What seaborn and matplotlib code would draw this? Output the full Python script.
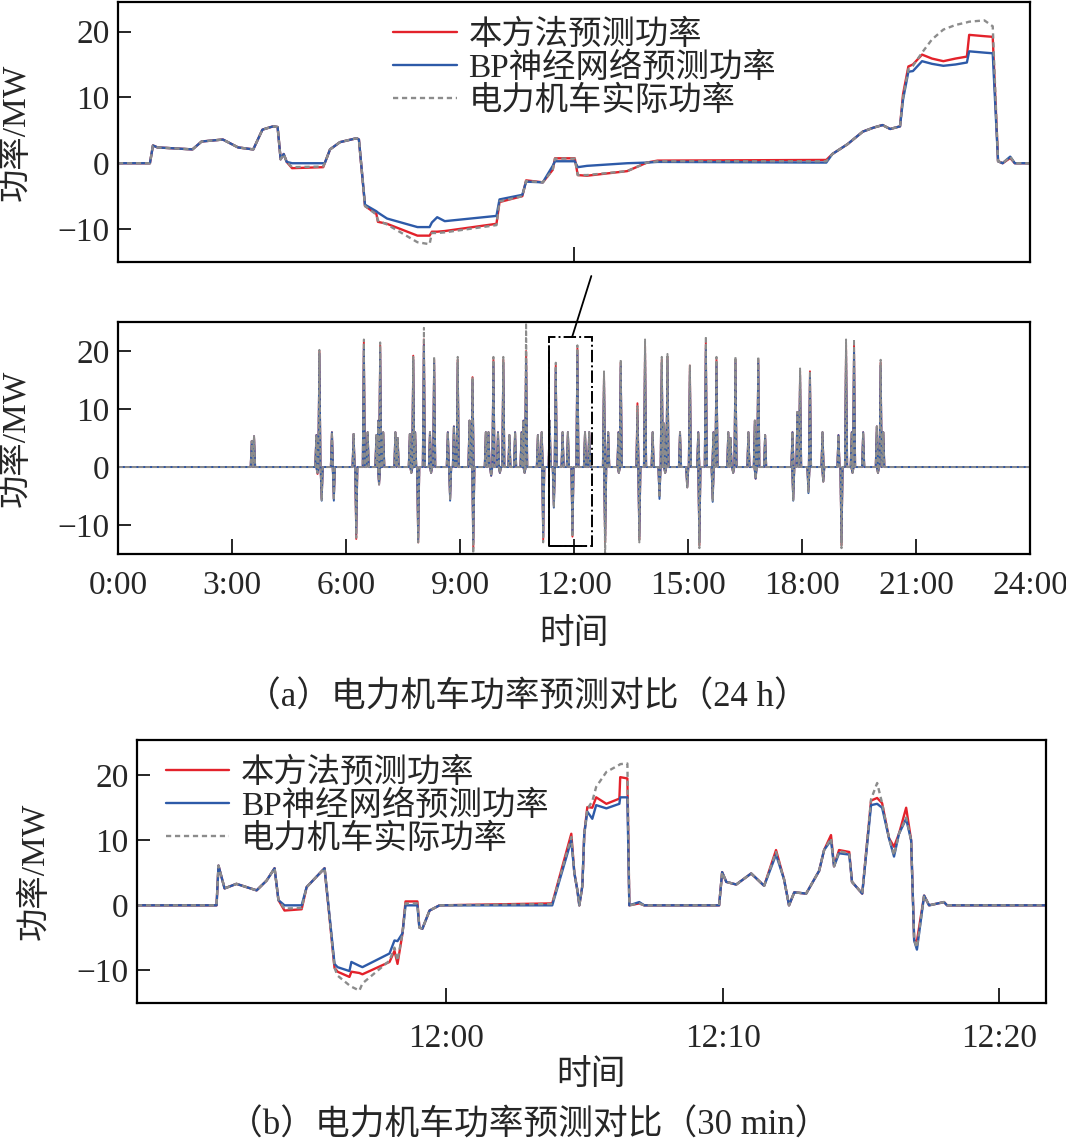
import matplotlib
matplotlib.use('Agg')
import matplotlib.pyplot as plt
import seaborn as sns
from matplotlib.patches import Rectangle, ConnectionPatch

# ---------------- data ----------------
# top panel: zoomed window, minutes after 11:30
top_minutes = [0, 2.1, 2.3, 2.6, 4.9, 5.5, 6.9, 7.9, 8.9, 9.5,
               10.2, 10.5, 10.7, 10.9, 11.1, 11.45, 13.5, 13.6, 13.95, 14.6,
               15.7, 15.85, 16.25, 17.0, 17.1, 17.7, 19.7, 20.5, 20.65, 21.0,
               21.5, 24.9, 25.1, 26.6, 26.85, 27.95, 28.6, 28.75, 30.05, 30.25,
               30.85, 33.5, 34.8, 35.5, 46.6, 47.0, 48.0, 49.0, 49.7, 50.3,
               50.8, 51.45, 51.65, 52.0, 52.3, 52.9, 53.55, 54.3, 55.1, 55.85,
               56.0, 57.0, 57.55, 57.9, 58.2, 58.7, 59.0, 60]
top_real = [0, 0, 2.7, 2.4, 2.1, 3.3, 3.6, 2.4, 2.1, 5.1,
            5.6, 5.5, 0.6, 1.4, 0.2, -0.6, -0.5, 0, 2.1, 3.2,
            3.8, 3.6, -6.5, -7.8, -8.7, -9.3, -12.0, -12.3, -10.6, -10.6,
            -10.5, -9.4, -5.8, -5.0, -2.7, -2.9, -1.0, 0.7, 0.7, -1.8,
            -1.8, -1.2, 0.1, 0.3, 0.3, 1.4, 2.9, 4.8, 5.4, 5.8,
            5.2, 5.6, 10.0, 14.3, 14.8, 16.8, 18.8, 20.3, 21.0, 21.4,
            21.5, 21.7, 20.8, 0.3, 0, 1.0, 0, 0]
top_ours = [0, 0, 2.7, 2.4, 2.1, 3.3, 3.6, 2.4, 2.1, 5.1,
            5.6, 5.5, 0.6, 1.4, 0.2, -0.75, -0.6, 0, 2.1, 3.2,
            3.8, 3.6, -6.5, -7.7, -8.9, -9.2, -11.0, -11.0, -10.4, -10.4,
            -10.3, -9.2, -5.9, -5.0, -2.6, -2.9, -1.0, 0.75, 0.75, -1.8,
            -1.9, -1.2, 0.1, 0.4, 0.5, 1.4, 2.9, 4.8, 5.4, 5.8,
            5.2, 5.6, 10.5, 14.7, 15.0, 16.5, 15.9, 15.5, 15.9, 16.2,
            19.5, 19.3, 19.2, 0.3, 0, 0.8, 0, 0]
top_bp = [0, 0, 2.7, 2.4, 2.1, 3.3, 3.6, 2.4, 2.1, 5.1,
          5.6, 5.5, 0.6, 1.4, 0.2, 0, 0, 0, 2.1, 3.2,
          3.8, 3.6, -6.3, -7.3, -7.5, -8.4, -9.7, -9.7, -9.0, -8.2,
          -8.8, -8.0, -5.5, -4.8, -2.8, -2.9, -0.4, 0.3, 0.3, -0.6,
          -0.4, 0, 0.1, 0.2, 0.1, 1.4, 2.9, 4.8, 5.4, 5.8,
          5.2, 5.6, 9.7, 13.9, 14.0, 15.5, 15.1, 14.8, 15.0, 15.3,
          17.0, 16.8, 16.7, 0.3, 0, 1.0, 0, 0]

# middle panel: 24 h, spike events (hour, peak MW)
spike_hours = [3.52, 3.58, 5.22, 5.25, 5.30, 5.36, 5.63, 5.68, 6.20, 6.27,
               6.47, 6.57, 6.80, 6.85, 6.87, 6.90, 6.98, 7.30, 7.36, 7.68,
               7.72, 7.77, 7.82, 7.90, 8.05, 8.21, 8.24, 8.32, 8.68, 8.74,
               8.84, 8.94, 9.25, 9.33, 9.35, 9.68, 9.75, 9.82, 9.88, 10.00,
               10.05, 10.14, 10.30, 10.45, 10.62, 10.67, 10.70, 10.74, 11.05, 11.15,
               11.19, 11.36, 11.47, 11.52, 11.70, 11.84, 11.96, 12.09, 12.29, 12.40,
               12.79, 12.82, 12.90, 13.17, 13.18, 13.23, 13.67, 13.72, 13.87, 14.07,
               14.25, 14.31, 14.37, 14.40, 14.46, 14.79, 14.98, 15.05, 15.27, 15.30,
               15.47, 15.65, 15.67, 15.75, 16.06, 16.12, 16.19, 16.25, 16.59, 16.76,
               16.78, 16.85, 17.03, 17.75, 17.77, 17.88, 17.95, 18.17, 18.21, 18.54,
               18.56, 18.96, 19.04, 19.16, 19.31, 19.33, 19.37, 19.61, 19.97, 20.00,
               20.07, 20.14]
spike_real = [4.5, 5.3, 5.5, -1.0, 20.2, -5.7, 6.0, -5.7, 5.7, -12.2,
              22.0, 6.0, 5.5, 8.0, -3.0, 21.5, 6.0, 6.0, 5.0, 5.7,
              -1.0, 19.0, 6.0, -13.0, 24.0, 6.0, -1.0, 19.0, 6.0, -5.7,
              7.0, 19.0, 8.0, 15.5, -16.0, 6.0, 6.0, -1.5, 19.0, 6.0,
              -1.0, 19.0, 5.5, 6.0, 6.0, 8.0, -1.0, 26.0, 5.5, 6.0,
              -13.0, 8.0, -7.0, 18.0, 6.0, 6.0, -12.0, 21.0, 6.0, 6.0,
              16.5, -16.0, 6.0, 6.0, -1.0, 18.5, 10.5, -13.0, 22.0, 6.0,
              -5.2, 19.0, 7.5, -1.0, 19.5, 6.0, -3.5, 17.5, 6.0, -14.0,
              22.5, -5.8, 6.0, 19.0, 6.0, 5.0, -1.0, 19.0, 6.0, 8.0,
              -2.0, 19.0, 5.5, 6.0, -5.7, 9.5, 17.0, -4.3, 16.5, 6.0,
              -2.5, 5.5, -14.0, 22.0, 6.0, -1.0, 22.0, 6.0, 7.0, -1.0,
              18.5, 6.0]
spike_ours = [4.5, 5.3, 5.5, -1.2, 20.0, -5.5, 6.0, -5.5, 5.7, -12.4,
              21.5, 6.0, 5.5, 8.0, -3.0, 21.0, 6.0, 6.0, 5.0, 5.7,
              -1.0, 19.2, 6.0, -13.0, 22.0, 6.0, -1.0, 18.5, 6.0, -5.5,
              7.0, 18.5, 8.0, 15.5, -14.0, 6.0, 6.0, -1.5, 18.5, 6.0,
              -1.0, 18.5, 5.5, 6.0, 6.0, 8.0, -1.0, 20.0, 5.5, 6.0,
              -12.5, 8.0, -6.5, 17.5, 6.0, 6.0, -12.0, 20.5, 6.0, 6.0,
              16.0, -13.0, 6.0, 6.0, -1.0, 18.0, 11.0, -12.5, 21.0, 6.0,
              -5.0, 18.5, 7.5, -1.0, 19.0, 6.0, -3.5, 17.5, 6.0, -13.5,
              21.5, -5.5, 6.0, 18.5, 6.0, 5.0, -1.0, 18.5, 6.0, 8.0,
              -2.0, 18.5, 5.5, 6.0, -5.5, 9.5, 16.5, -4.0, 16.5, 6.0,
              -2.5, 5.5, -13.5, 21.0, 6.0, -1.0, 21.0, 6.0, 7.0, -1.0,
              18.0, 6.0]
spike_bp = [4.5, 5.3, 5.5, -1.0, 19.5, -5.8, 6.0, -5.8, 5.7, -11.5,
            20.5, 6.0, 5.5, 8.0, -3.0, 20.0, 6.0, 6.0, 5.0, 5.7,
            -1.0, 18.5, 6.0, -12.5, 21.0, 6.0, -1.0, 18.0, 6.0, -5.8,
            7.0, 18.0, 8.0, 15.0, -13.0, 6.0, 6.0, -1.5, 18.0, 6.0,
            -1.0, 18.0, 5.5, 6.0, 6.0, 8.0, -1.0, 18.0, 5.5, 6.0,
            -12.0, 8.0, -7.0, 17.0, 6.0, 6.0, -11.5, 19.5, 6.0, 6.0,
            15.5, -12.5, 6.0, 6.0, -1.0, 17.5, 9.0, -12.0, 20.0, 6.0,
            -5.5, 18.0, 7.5, -1.0, 18.5, 6.0, -3.5, 16.5, 6.0, -13.0,
            20.5, -6.0, 6.0, 18.0, 6.0, 5.0, -1.0, 18.0, 6.0, 8.0,
            -2.0, 18.0, 5.5, 6.0, -5.8, 9.5, 16.0, -4.5, 15.5, 6.0,
            -2.5, 5.5, -13.0, 20.0, 6.0, -1.0, 20.0, 6.0, 7.0, -1.0,
            17.5, 6.0]
day_ticks = [0, 3, 6, 9, 12, 15, 18, 21, 24]
day_tick_labels = ['0:00', '3:00', '6:00', '9:00', '12:00', '15:00', '18:00', '21:00', '24:00']

# bottom panel: 30 min window, minutes relative to 12:00
win_minutes = [-11.2, -8.32, -8.25, -8.03, -7.6, -6.87, -6.51, -6.22, -6.08, -5.86,
               -5.24, -5.06, -4.77, -4.41, -4.05, -3.94, -3.51, -3.44, -3.15, -3.04,
               -2.06, -1.88, -1.77, -1.59, -1.48, -1.05, -0.98, -0.87, -0.61, -0.25,
               3.83, 4.52, 4.63, 4.74, 4.81, 4.92, 4.99, 5.1, 5.28, 5.42,
               5.79, 6.26, 6.29, 6.55, 6.62, 6.98, 7.16, 9.87, 9.98, 10.13,
               10.49, 11.03, 11.5, 11.93, 12.22, 12.4, 12.59, 13.02, 13.49, 13.67,
               13.92, 14.03, 14.21, 14.58, 14.68, 15.05, 15.37, 15.59, 15.77, 16.02,
               16.2, 16.38, 16.64, 16.82, 16.93, 17.03, 17.29, 17.47, 18.01, 18.12,
               21.7]
win_real = [0, 0, 6.1, 2.6, 3.3, 2.3, 3.8, 5.7, 0.8, -0.5,
            -0.4, 2.8, 4.1, 5.7, -9.6, -10.8, -12.3, -12.5, -13.1, -12.0,
            -8.5, -6.5, -8.5, -4.3, 0.3, 0.3, -3.4, -3.6, -0.8, 0,
            0.2, 10.5, 5.0, 2.3, 0, 3.0, 11.0, 14.8, 16.0, 18.2,
            20.5, 21.6, 21.7, 21.8, 0, 0.3, 0, 0, 5.1, 3.6,
            3.2, 4.9, 3.0, 8.2, 4.0, 0, 2.0, 1.8, 5.3, 8.5,
            10.3, 6.0, 8.3, 8.0, 3.6, 1.8, 16.3, 18.8, 15.7, 10.3,
            7.7, 11.0, 13.5, 10.0, -5.4, -6.5, 1.5, 0, 0.5, 0,
            0]
win_ours = [0, 0, 6.1, 2.6, 3.3, 2.3, 3.8, 5.7, 0.8, -0.8,
            -0.6, 2.8, 4.1, 5.7, -9.6, -10.2, -11.0, -10.2, -10.4, -10.6,
            -8.7, -7.0, -9.0, -4.3, 0.6, 0.6, -3.4, -3.6, -0.8, 0,
            0.3, 11.0, 5.0, 2.3, 0, 3.0, 11.0, 15.1, 15.0, 16.6,
            15.6, 16.4, 19.7, 19.5, 0, 0.3, 0, 0, 5.1, 3.6,
            3.2, 4.9, 3.0, 8.5, 4.0, 0, 2.0, 1.8, 5.3, 8.5,
            10.8, 6.0, 8.5, 8.2, 3.6, 1.8, 16.1, 16.5, 15.7, 10.3,
            9.0, 11.0, 15.0, 10.0, -5.4, -5.5, 1.5, 0, 0.5, 0,
            0]
win_bp = [0, 0, 6.1, 2.6, 3.3, 2.3, 3.8, 5.7, 0.8, 0,
          0, 2.8, 4.1, 5.7, -9.0, -9.5, -10.1, -8.7, -9.3, -9.5,
          -7.4, -5.4, -5.5, -4.3, 0, 0, -3.4, -3.6, -0.8, 0,
          0, 10.0, 5.0, 2.3, 0, 3.0, 11.0, 14.4, 13.3, 15.4,
          14.9, 15.6, 16.6, 16.6, 0, 0.5, 0, 0, 5.1, 3.6,
          3.2, 4.9, 3.0, 7.8, 4.0, 0, 2.0, 1.8, 5.3, 8.5,
          10.0, 6.0, 8.0, 7.8, 3.6, 1.8, 15.4, 15.6, 15.0, 10.3,
          7.5, 11.0, 13.3, 10.0, -5.4, -6.8, 1.5, 0, 0.5, 0,
          0]
win_ticks = [0, 10, 20]
win_tick_labels = ['12:00', '12:10', '12:20']

# zoom box drawn on the 24 h panel
box_hours = (11.34, 12.47)
box_values = (-13.6, 22.4)

series_labels = ['本方法预测功率', 'BP神经网络预测功率', '电力机车实际功率']
series_colors = ['#e3222b', '#2d5aa8', '#8c8c8c']
spike_halfwidth = 0.03


def spikes_to_line(hours, values):
    xs, ys = [0.0], [0.0]
    for h, v in zip(hours, values):
        xs += [h - spike_halfwidth, h, h + spike_halfwidth]
        ys += [0.0, v, 0.0]
    xs.append(24.0)
    ys.append(0.0)
    return xs, ys


def draw_series(ax, x_list, y_lists, lw=1.7, dash=(2.2, 1.6)):
    for label, color, y in zip(series_labels, series_colors, y_lists):
        style = (0, dash) if label == series_labels[2] else '-'
        sns.lineplot(x=x_list, y=y, ax=ax, color=color, linewidth=lw,
                     linestyle=style, estimator=None, sort=False,
                     label=label)


def style_axes(ax, ylim):
    ax.set_ylim(*ylim)
    ax.set_yticks([-10, 0, 10, 20])
    ax.tick_params(direction='in', length=9, width=1.4, labelsize=24, pad=6)
    ax.tick_params(axis='x', length=11, pad=12)
    for sp in ax.spines.values():
        sp.set_linewidth(1.6)
        sp.set_color('black')
        sp.set_visible(True)
    ax.set_ylabel('功率/MW', fontsize=24)


sns.set_theme(style='ticks')
plt.rcParams['font.family'] = ['Liberation Serif', 'Noto Sans CJK SC']
plt.rcParams['axes.unicode_minus'] = True

fig = plt.figure(figsize=(10.66, 11.44), dpi=100)
ax_top = fig.add_axes([0.1107, 0.771, 0.8555, 0.2273])
ax_mid = fig.add_axes([0.1107, 0.5157, 0.8555, 0.2028])
ax_bot = fig.add_axes([0.1285, 0.1233, 0.8527, 0.2298])

legend_kw = dict(loc='upper left', frameon=False, fontsize=24, handlelength=1.9,
                 handletextpad=0.35, labelspacing=0.05, borderaxespad=0.2)

# top panel
draw_series(ax_top, top_minutes, [top_ours, top_bp, top_real])
ax_top.set_xlim(0, 60)
ax_top.set_xticks([30])
ax_top.set_xticklabels([''])
style_axes(ax_top, (-15, 24.5))
ax_top.legend(bbox_to_anchor=(0.28, 1.01), **legend_kw)

# middle panel
mid_x, mid_ours = spikes_to_line(spike_hours, spike_ours)
_, mid_bp = spikes_to_line(spike_hours, spike_bp)
_, mid_real = spikes_to_line(spike_hours, spike_real)
draw_series(ax_mid, mid_x, [mid_ours, mid_bp, mid_real], lw=1.4, dash=(2.5, 1.0))
ax_mid.get_legend().remove()
ax_mid.set_xlim(0, 24)
ax_mid.set_xticks(day_ticks)
ax_mid.set_xticklabels(day_tick_labels)
style_axes(ax_mid, (-15, 25))
ax_mid.set_xlabel('时间', fontsize=25)
ax_mid.xaxis.set_label_coords(0.5, -0.275)
ax_mid.add_patch(Rectangle((box_hours[0], box_values[0]),
                           box_hours[1] - box_hours[0],
                           box_values[1] - box_values[0],
                           fill=False, edgecolor='black', linewidth=1.4,
                           linestyle='-.', zorder=5))
# left and bottom sides of the box are solid
ax_mid.plot([box_hours[0], box_hours[0], box_hours[1] - 0.15],
            [box_values[1] - 1.5, box_values[0], box_values[0]],
            color='black', linewidth=1.4, zorder=5)
link = ConnectionPatch(xyA=(11.95, box_values[1]), coordsA=ax_mid.transData,
                       xyB=(0.519, -0.054), coordsB=ax_top.transAxes,
                       color='black', linewidth=1.3)
fig.add_artist(link)

# bottom panel
draw_series(ax_bot, win_minutes, [win_ours, win_bp, win_real])
ax_bot.set_xlim(-11.2, 21.7)
ax_bot.set_xticks(win_ticks)
ax_bot.set_xticklabels(win_tick_labels)
style_axes(ax_bot, (-15, 25.4))
ax_bot.tick_params(axis='x', pad=15)
ax_bot.set_xlabel('时间', fontsize=25)
ax_bot.xaxis.set_label_coords(0.5, -0.215)
ax_bot.legend(bbox_to_anchor=(0.01, 1.01), **legend_kw)

for ax in (ax_top, ax_mid, ax_bot):
    ax.yaxis.set_label_coords(-0.095, 0.5)

fig.text(0.495, 1 - 698 / 1144, '（a）电力机车功率预测对比（24 h）',
         ha='center', va='center', fontsize=25)
fig.text(0.496, 1 - 1126 / 1144, '（b）电力机车功率预测对比（30 min）',
         ha='center', va='center', fontsize=25)

fig.savefig('out.png', dpi=100, facecolor='white')
